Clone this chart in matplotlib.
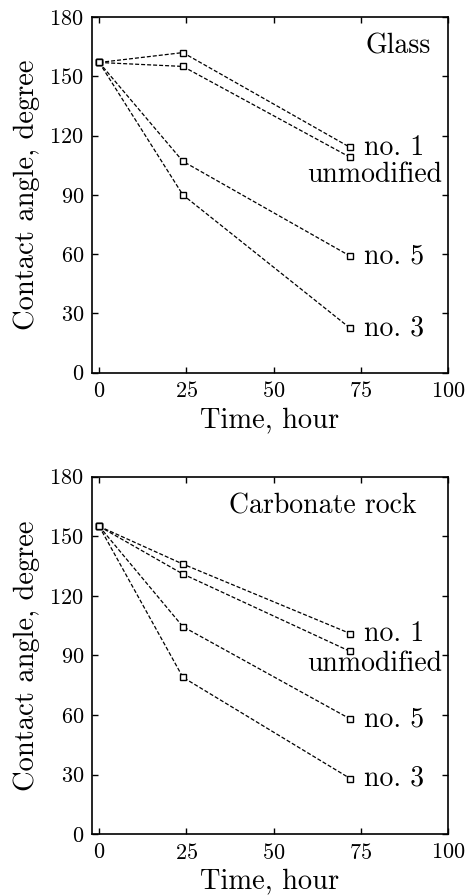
import numpy as np
import matplotlib
matplotlib.use("Agg")
import matplotlib.pyplot as plt

plt.rcParams['font.family'] = 'serif'
plt.rcParams['font.serif'] = ['cmr10']
plt.rcParams['mathtext.fontset'] = 'cm'
plt.rcParams['axes.formatter.use_mathtext'] = True

# time points, hours
t = [0, 24, 72]
series_names = ["no. 1", "unmodified", "no. 5", "no. 3"]

# glass substrate
glass_no1 = [157, 162, 114]
glass_unmod = [157, 155, 109]
glass_no5 = [157, 107, 59]
glass_no3 = [157, 90, 22.5]

# carbonate rock substrate
rock_no1 = [155, 136, 101]
rock_unmod = [155, 131, 92]
rock_no5 = [155, 104.5, 58]
rock_no3 = [155, 79, 28]

fig = plt.figure(figsize=(4.68, 8.96), dpi=100)
ax1 = fig.add_axes([0.197, 0.584, 0.76, 0.397])
ax2 = fig.add_axes([0.197, 0.069, 0.76, 0.399])

def draw(ax, data, title, title_x, unmod_dy):
    for y in data:
        ax.plot(t, y, '--', color='black', lw=0.9, dashes=(3.2, 1.6),
                marker='s', ms=4, mfc='white', mec='black', mew=1.0)
    # labels next to last points
    no1, unmod, no5, no3 = data
    ax.text(76, no1[-1], series_names[0], fontsize=20, va='center', ha='left')
    ax.text(98.5, unmod[-1] + unmod_dy, series_names[1], fontsize=20, va='center', ha='right')
    ax.text(76, no5[-1], series_names[2], fontsize=20, va='center', ha='left')
    ax.text(76, no3[-1], series_names[3], fontsize=20, va='center', ha='left')
    ax.text(title_x, 165, title, fontsize=20, va='center', ha='right')
    ax.set_xlim(-2, 100)
    ax.set_ylim(0, 180)
    ax.set_xticks([0, 25, 50, 75, 100])
    ax.set_yticks([0, 30, 60, 90, 120, 150, 180])
    ax.tick_params(direction='in', top=True, right=True, labelsize=16, length=4, width=1, pad=6)
    for s in ax.spines.values():
        s.set_linewidth(1.2)
    ax.set_xlabel("Time, hour", fontsize=20.5, labelpad=4)
    ax.set_ylabel("Contact angle, degree", fontsize=20.5, labelpad=7)

draw(ax1, [glass_no1, glass_unmod, glass_no5, glass_no3], "Glass", 95, -9)
draw(ax2, [rock_no1, rock_unmod, rock_no5, rock_no3], "Carbonate rock", 91, -6)

fig.savefig("out.png", dpi=100)
